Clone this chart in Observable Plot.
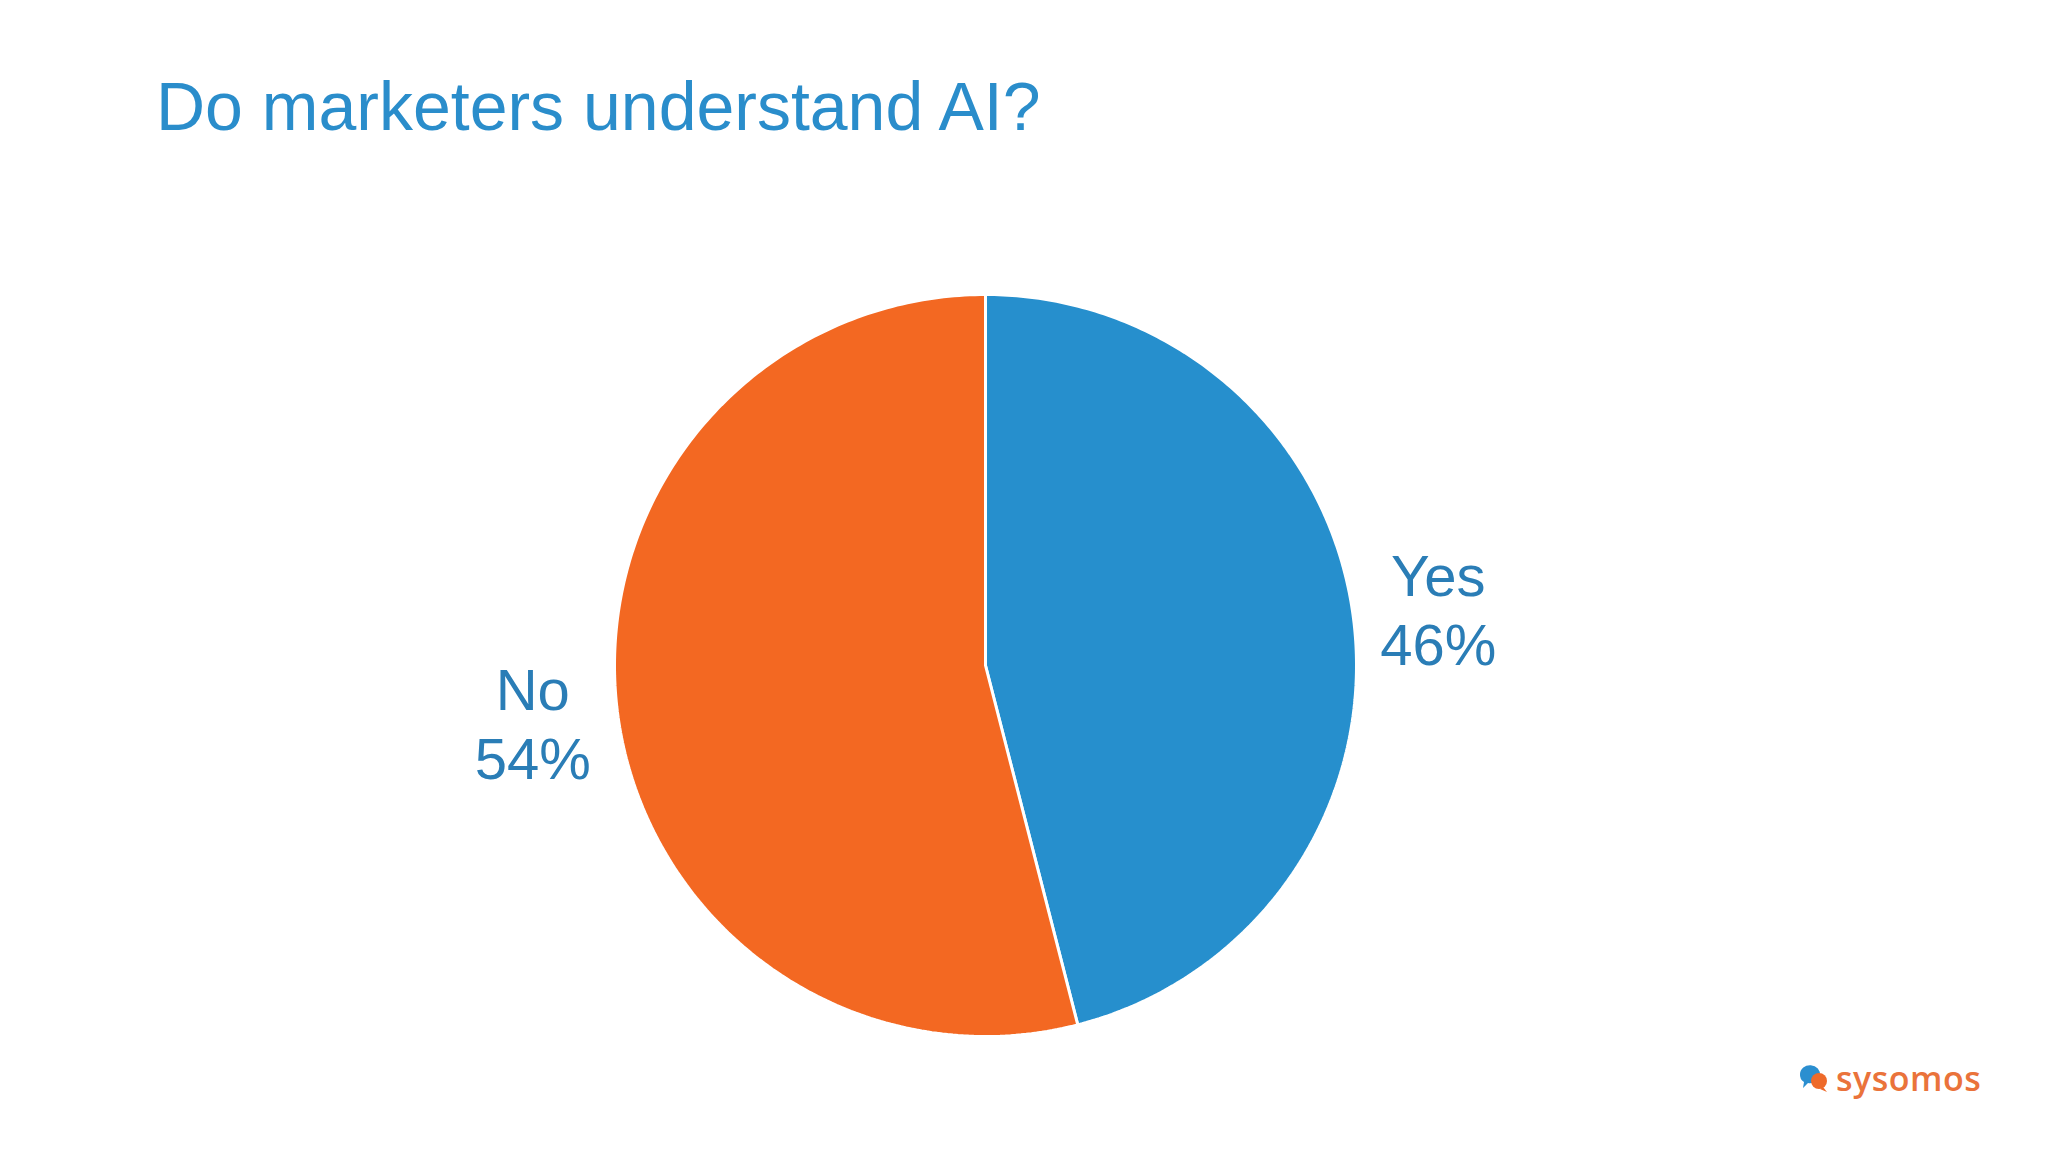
<!DOCTYPE html>
<html>
<head>
<meta charset="utf-8">
<script src="https://cdn.jsdelivr.net/npm/d3@7"></script>
<script src="https://cdn.jsdelivr.net/npm/@observablehq/plot@0.6"></script>
<style>
  html, body { margin: 0; padding: 0; background: #ffffff; }
  #wrap { position: relative; width: 2048px; height: 1152px; overflow: hidden; font-family: "Liberation Sans", Arial, sans-serif; }
  #title { position: absolute; left: 156px; top: 72px; font-size: 68px; color: #2a8dcb; white-space: nowrap; line-height: 1; }
  #chart { position: absolute; left: 0; top: 0; }
  #logo { position: absolute; left: 1796px; top: 1061px; display: flex; align-items: center; gap: 6px; }
  #logo span { font-family: "Open Sans", "Noto Sans", sans-serif; font-weight: 600; font-size: 34px; color: #ea733b; line-height: 1; letter-spacing: 0.5px; }
</style>
</head>
<body>
<div id="wrap">
  <div id="chart"></div>
  <div id="title">Do marketers understand AI?</div>
  <div id="logo">
    <svg width="34" height="34" viewBox="0 0 34 34">
      <path d="M4 13 a10 9 0 1 1 8 9 l-5 5 l1 -6 a10 9 0 0 1 -4 -8 z" fill="#2b8fd0"/>
      <circle cx="23" cy="20" r="8" fill="#ee6a2a"/>
      <path d="M27 26 l4 5 l-7 -3 z" fill="#ee6a2a"/>
    </svg>
    <span>sysomos</span>
  </div>
</div>
<script>
const categories = ["Yes", "No"];
const values = [46, 54];
const labels = ["Yes\n46%", "No\n54%"];
const colors = ["#268fcd", "#f36822"];

const W = 2048, H = 1152;
const cx = 985, cy = 665, R = 371;

const arcs = d3.pie().sort(null).value(d => d.value)(
  categories.map((c, i) => ({cat: c, value: values[i], label: labels[i]}))
);

// polygon points per slice, in unit-circle coordinates (angle measured clockwise from top)
const pts = [];
for (const a of arcs) {
  const n = 240;
  pts.push({cat: a.data.cat, x: 0, y: 0});
  for (let k = 0; k <= n; k++) {
    const t = a.startAngle + (a.endAngle - a.startAngle) * k / n;
    pts.push({cat: a.data.cat, x: Math.sin(t), y: Math.cos(t)});
  }
  pts.push({cat: a.data.cat, x: 0, y: 0});
}
const labelPts = arcs.map(a => {
  const m = (a.startAngle + a.endAngle) / 2;
  return {label: a.data.label, x: 1.23 * Math.sin(m), y: 1.23 * Math.cos(m)};
});

const chart = Plot.plot({
  width: W,
  height: H,
  margin: 0,
  x: {domain: [-cx / R, (W - cx) / R], range: [0, W], axis: null},
  y: {domain: [-(H - cy) / R, cy / R], range: [H, 0], axis: null},
  color: {domain: categories, range: colors},
  style: {background: "transparent"},
  marks: [
    Plot.line(pts, {x: "x", y: "y", z: "cat", fill: "cat", stroke: "white", strokeWidth: 3, strokeLinejoin: "miter"}),
    Plot.text(labelPts, {
      x: "x", y: "y", text: "label",
      fontSize: 58, lineHeight: 1.19, fill: "#2a7db6",
      textAnchor: "middle", lineAnchor: "middle",
      fontFamily: "Liberation Sans, Arial, sans-serif"
    })
  ]
});
document.getElementById("chart").appendChild(chart);
</script>
</body>
</html>
